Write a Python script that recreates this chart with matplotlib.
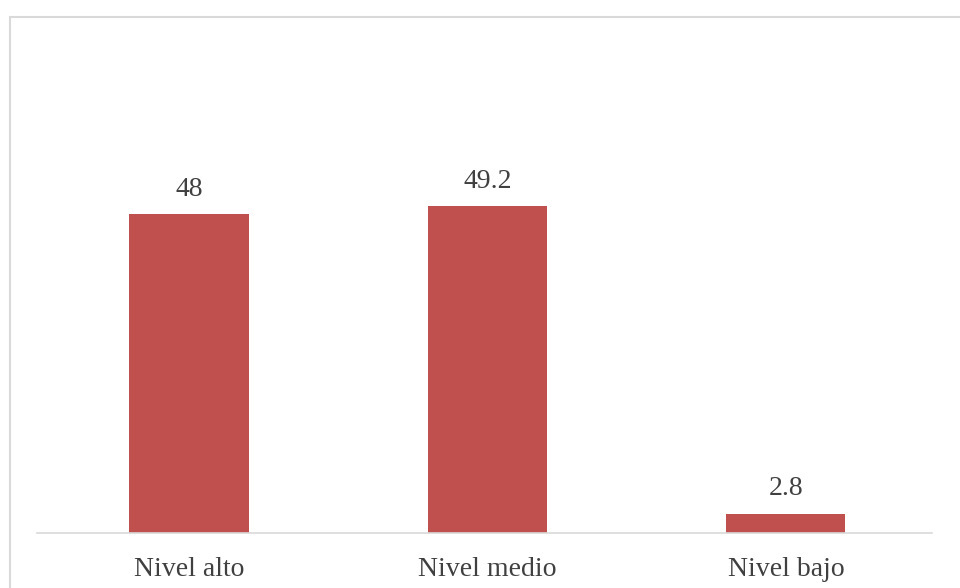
import matplotlib
matplotlib.use("Agg")
import matplotlib.pyplot as plt
from matplotlib.patches import Rectangle

categories = ["Nivel alto", "Nivel medio", "Nivel bajo"]
values = [48, 49.2, 2.8]
value_labels = ["48", "49.2", "2.8"]

W, H = 960, 588
fig = plt.figure(figsize=(W / 100, H / 100), dpi=100)
plt.rcParams['font.family'] = ['Liberation Serif', 'DejaVu Serif']

# outer border (left and top visible)
fig.patches.append(Rectangle((10 / W, -0.1), (W + 50) / W, (H - 17) / H + 0.1,
                             transform=fig.transFigure, fill=False,
                             edgecolor="#D9D9D9", linewidth=1.5))

ax_left, ax_right = 37, 932
ax_bottom, ax_top = 532.5, 40
ax = fig.add_axes([ax_left / W, (H - ax_bottom) / H,
                   (ax_right - ax_left) / W, (ax_bottom - ax_top) / H])
px_per_unit = 318.2 / 48
ax.set_ylim(0, (ax_bottom - ax_top) / px_per_unit)
ax.set_xlim(-0.51, 2.49)
ax.patch.set_alpha(0)

x = list(range(len(categories)))
bars = ax.bar(x, values, width=0.4, color="#C0504D")
for b, lab in zip(bars, value_labels):
    ax.annotate(lab, (b.get_x() + b.get_width() / 2, b.get_height()),
                xytext=(0, 9), textcoords="offset points",
                ha="center", va="bottom", fontsize=20, color="#404040")

for s in ["top", "right", "left"]:
    ax.spines[s].set_visible(False)
ax.spines["bottom"].set_color("#D9D9D9")
ax.spines["bottom"].set_linewidth(1.2)
ax.set_yticks([])
ax.set_xticks(x)
ax.set_xticklabels(categories, fontsize=20, color="#404040")
ax.tick_params(axis="x", length=0, pad=18)

fig.savefig("out.png", dpi=100)
